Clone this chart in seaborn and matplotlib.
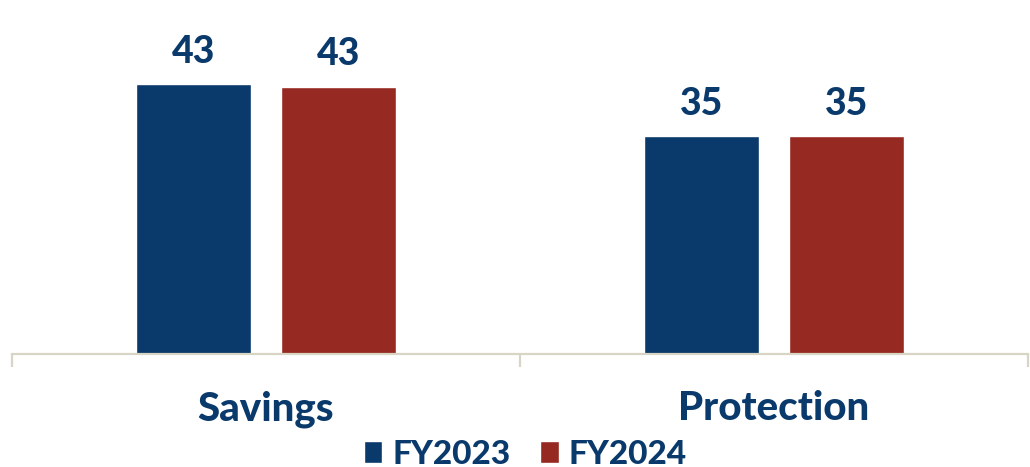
import matplotlib
matplotlib.use("Agg")
import matplotlib.pyplot as plt
from matplotlib.patches import Patch
from matplotlib.ticker import FixedLocator
import seaborn as sns
import pandas as pd

categories = ["Savings", "Protection"]
years = ["FY2023", "FY2024"]
fy2023 = [43.3, 35.0]
fy2024 = [42.9, 35.0]

NAVY = "#0a3a6b"
RED = "#962a22"
AXIS = "#d9d5c4"

df = pd.DataFrame({
    "category": categories * 2,
    "year": [years[0]] * len(categories) + [years[1]] * len(categories),
    "value": fy2023 + fy2024,
})

sns.set_theme(style="white")
plt.rcParams["font.family"] = ["Lato", "DejaVu Sans"]

fig = plt.figure(figsize=(10.30, 4.67), dpi=100)
ax = fig.add_axes([12 / 1030, 113 / 467, 1016 / 1030, 354 / 467])

sns.barplot(data=df, x="category", y="value", hue="year", order=categories,
            hue_order=years, palette=[NAVY, RED], width=0.572, gap=0.21,
            saturation=1, legend=False, ax=ax)

for cont in ax.containers:
    ax.bar_label(cont, fmt="%.0f", padding=11, fontsize=27,
                 fontweight=900, color=NAVY)

ax.set_xlim(-0.5, 1.5)
ax.set_ylim(0, 56.8)
ax.set_xlabel("")
ax.set_ylabel("")
ax.set_yticks([])
for side in ["left", "right", "top"]:
    ax.spines[side].set_visible(False)
ax.spines["bottom"].set_color(AXIS)
ax.spines["bottom"].set_linewidth(1.6)

# short separators between the category slots
ax.xaxis.set_minor_locator(FixedLocator([-0.5, 0.5, 1.5]))
ax.tick_params(axis="x", which="minor", length=9.5, width=1.6, color=AXIS,
               bottom=True)
ax.tick_params(axis="x", which="major", length=0, pad=26, labelsize=29,
               labelcolor=NAVY)
for lbl in ax.get_xticklabels():
    lbl.set_fontweight(900)

handles = [Patch(facecolor=NAVY, label=years[0]),
           Patch(facecolor=RED, label=years[1])]
fig.legend(handles=handles, loc="upper center", bbox_to_anchor=(0.51, 27 / 467),
           ncol=2, frameon=False, borderpad=0, borderaxespad=0,
           handlelength=0.55, handleheight=0.62, handletextpad=0.3,
           columnspacing=0.9,
           prop={"family": "Lato", "weight": 900, "size": 24},
           labelcolor=NAVY)

fig.savefig("out.png", dpi=100)
